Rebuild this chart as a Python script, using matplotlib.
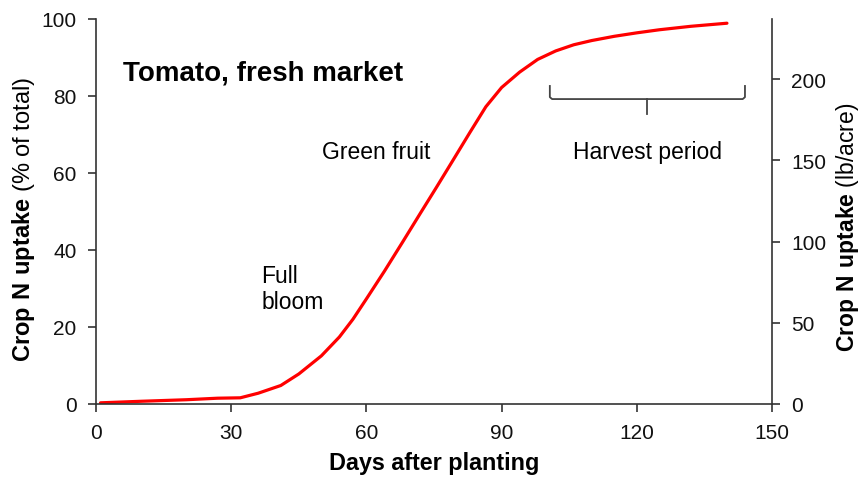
import matplotlib
matplotlib.use("Agg")
import matplotlib.pyplot as plt

plt.rcParams['font.family'] = ['Liberation Sans', 'DejaVu Sans']
plt.rcParams['mathtext.fontset'] = 'custom'
plt.rcParams['mathtext.rm'] = 'Liberation Sans'
plt.rcParams['mathtext.bf'] = 'Liberation Sans:bold'

# crop N uptake curve
days = [1, 10, 20, 27, 32, 36, 41, 45, 50, 54, 57, 60, 64, 68, 72, 75.5, 79,
        83, 86.5, 90, 94, 98, 102, 106, 110, 115, 120, 125, 132, 140]
uptake_pct = [0.3, 0.7, 1.1, 1.5, 1.6, 2.8, 4.8, 7.8, 12.5, 17.4, 22, 27.3,
              34.5, 42, 49.6, 56.2, 62.9, 70.6, 77.2, 82.2, 86.2, 89.5, 91.7,
              93.3, 94.4, 95.5, 96.4, 97.2, 98.1, 98.9]

total_lb = 237  # 100 % of total in lb/acre
x_ticks = [0, 30, 60, 90, 120, 150]
left_ticks = [0, 20, 40, 60, 80, 100]
right_ticks = [0, 50, 100, 150, 200]

harvest_start, harvest_end = 100.7, 144

axis_col = '#333333'
fig = plt.figure(figsize=(8.62, 4.85), dpi=100)
ax = fig.add_axes([0.1114, 0.165, 0.7842, 0.7938])

ax.plot(days, uptake_pct, color='#ff0000', lw=2.3,
        solid_capstyle='round', solid_joinstyle='round')

ax.set_xlim(0, 150)
ax.set_ylim(0, 100)
ax.set_xticks(x_ticks)
ax.set_yticks(left_ticks)
ax.spines['top'].set_visible(False)
ax.spines['right'].set_visible(False)
for s in ['left', 'bottom']:
    ax.spines[s].set_color(axis_col)
    ax.spines[s].set_linewidth(1.2)
ax.tick_params(direction='out', length=6, width=1.2, color=axis_col,
               labelsize=15, labelcolor='#111111', pad=8)

ax2 = ax.twinx()
ax2.set_ylim(0, total_lb)
ax2.set_yticks(right_ticks)
for s in ['top', 'left', 'bottom']:
    ax2.spines[s].set_visible(False)
ax2.spines['right'].set_color(axis_col)
ax2.spines['right'].set_linewidth(1.2)
ax2.tick_params(direction='out', length=6, width=1.2, color=axis_col,
                labelsize=15, labelcolor='#111111', pad=8)

ax.set_xlabel('Days after planting', fontsize=16.8, fontweight='bold', labelpad=6)
fig.text(24 / 862, 1 - 219 / 485, r'$\mathbf{Crop\ N\ uptake}$ (% of total)',
         fontsize=17, rotation=90, ha='center', va='center')
fig.text(848 / 862, 1 - 227 / 485, r'$\mathbf{Crop\ N\ uptake}$ (lb/acre)',
         fontsize=16.5, rotation=90, ha='center', va='center')

# labels on the plot
ax.text(6, 86, 'Tomato, fresh market', fontsize=20, fontweight='bold', va='center')
ax.text(36.7, 30, 'Full\nbloom', fontsize=16.5, va='center', ha='left', linespacing=1.15)
ax.text(62.2, 65.7, 'Green fruit', fontsize=16.5, ha='center', va='center')
ax.text(122.4, 65.5, 'Harvest period', fontsize=16.5, ha='center', va='center')

# harvest brace
mid = (harvest_start + harvest_end) / 2
ax.plot([harvest_start, harvest_start, harvest_start + 0.5, harvest_end - 0.5,
         harvest_end, harvest_end],
        [82.6, 79.7, 79.2, 79.2, 79.7, 82.6], color='#444444', lw=1.3)
ax.plot([mid, mid], [79.2, 75.3], color='#444444', lw=1.3)

fig.savefig('out.png', dpi=100)
